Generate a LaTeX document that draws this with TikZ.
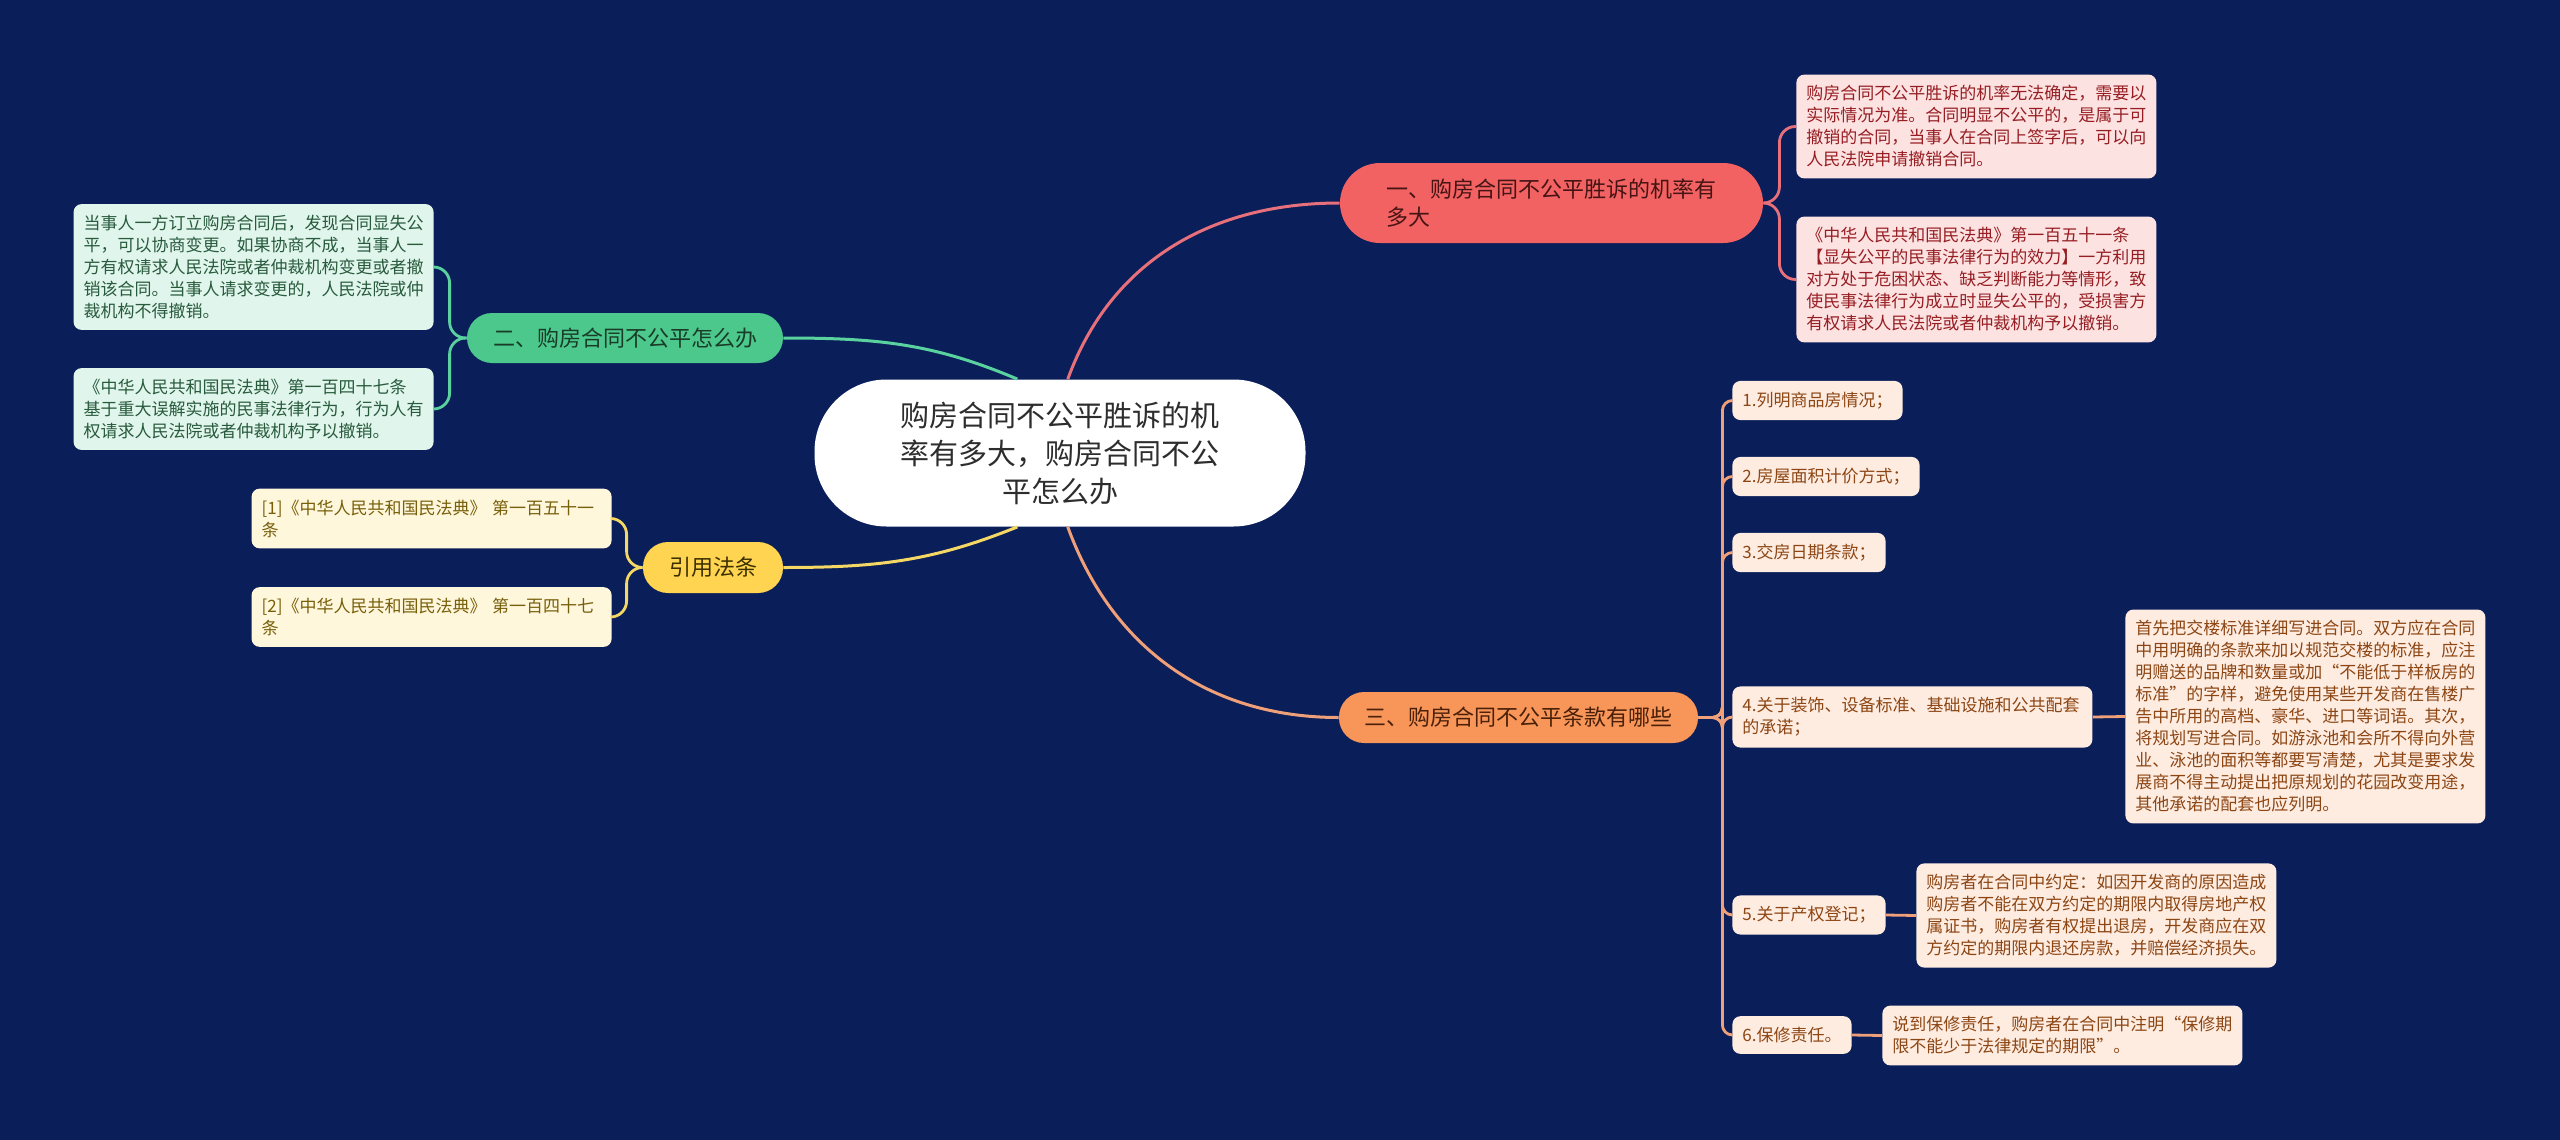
\documentclass[tikz,border=0pt]{standalone}
\usepackage{fontspec}
\setmainfont{Noto Sans CJK SC}
\usepackage{xcolor}
\usepackage{tikz}
\usetikzlibrary{positioning, calc}
\definecolor{bgnavy}{RGB}{10, 30, 90}
\definecolor{rootink}{RGB}{45, 45, 45}
\definecolor{redfill}{RGB}{242, 98, 98}
\definecolor{redline}{RGB}{232, 112, 122}
\definecolor{redink}{RGB}{70, 20, 20}
\definecolor{redleaf}{RGB}{253, 226, 226}
\definecolor{redleafink}{RGB}{150, 30, 35}
\definecolor{greenfill}{RGB}{76, 200, 140}
\definecolor{greenline}{RGB}{90, 210, 160}
\definecolor{greenink}{RGB}{25, 60, 40}
\definecolor{greenleaf}{RGB}{224, 245, 236}
\definecolor{greenleafink}{RGB}{40, 90, 60}
\definecolor{yellowfill}{RGB}{255, 212, 80}
\definecolor{yellowline}{RGB}{245, 215, 100}
\definecolor{yellowink}{RGB}{60, 48, 0}
\definecolor{yellowleaf}{RGB}{255, 247, 220}
\definecolor{yellowleafink}{RGB}{120, 95, 10}
\definecolor{orangefill}{RGB}{248, 150, 90}
\definecolor{orangeline}{RGB}{240, 160, 120}
\definecolor{orangeink}{RGB}{74, 32, 8}
\definecolor{orangeleaf}{RGB}{255, 236, 225}
\definecolor{orangeleafink}{RGB}{140, 70, 20}
\tikzstyle{rootnode} = [
    rectangle,
    rounded corners=36pt,
    minimum width=245.5pt,
    minimum height=73.5pt,
    fill=white,
    text=rootink,
    align=center,
    font=\fontsize{14.5}{19}\selectfont
]
\tikzstyle{topicnode} = [
    rectangle,
    rounded corners=12.5pt,
    minimum height=25.5pt,
    inner sep=0pt,
    font=\fontsize{11}{14}\selectfont
]
\tikzstyle{leafnode} = [
    rectangle,
    rounded corners=4pt,
    inner xsep=5pt,
    inner ysep=5.5pt,
    align=left,
    font=\fontsize{8.5}{11}\selectfont
]
\tikzstyle{wideleaf} = [
    leafnode,
    text width=170pt
]
\tikzstyle{branchline} = [
    line width=1.4pt,
    rounded corners=8pt
]

\begin{document}
\begin{tikzpicture}[x=0.5pt, y=0.5pt]
        \fill[bgnavy] (0,0) rectangle (2560,-1140);
        \useasboundingbox (0,0) rectangle (2560,-1140);

        % Root
        \node[rootnode] (root) at (1060,-453) {购房合同不公平胜诉的机\\率有多大，购房合同不公\\平怎么办};

        % Topics
        \node[topicnode, fill=redfill, text=redink, minimum width=211.5pt, minimum height=40pt, rounded corners=20pt, align=left] (t1) at (1551.5,-203) {一、购房合同不公平胜诉的机率有\\多大};
        \node[topicnode, fill=greenfill, text=greenink, minimum width=158pt, minimum height=25pt] (t2) at (625,-338) {二、购房合同不公平怎么办};
        \node[topicnode, fill=orangefill, text=orangeink, minimum width=179.5pt] (t3) at (1518.5,-717.5) {三、购房合同不公平条款有哪些};
        \node[topicnode, fill=yellowfill, text=yellowink, minimum width=70pt] (t4) at (713,-567.5) {引用法条};

        % Leaves of topic one
        \node[wideleaf, fill=redleaf, text=redleafink, anchor=west] (r1) at (1796,-126.5) {购房合同不公平胜诉的机率无法确定，需要以\\实际情况为准。合同明显不公平的，是属于可\\撤销的合同，当事人在合同上签字后，可以向\\人民法院申请撤销合同。};
        \node[wideleaf, fill=redleaf, text=redleafink, anchor=west] (r2) at (1796,-279.5) {《中华人民共和国民法典》第一百五十一条\\【显失公平的民事法律行为的效力】一方利用\\对方处于危困状态、缺乏判断能力等情形，致\\使民事法律行为成立时显失公平的，受损害方\\有权请求人民法院或者仲裁机构予以撤销。};

        % Leaves of topic two
        \node[wideleaf, fill=greenleaf, text=greenleafink, anchor=east] (g1) at (434,-267) {当事人一方订立购房合同后，发现合同显失公\\平，可以协商变更。如果协商不成，当事人一\\方有权请求人民法院或者仲裁机构变更或者撤\\销该合同。当事人请求变更的，人民法院或仲\\裁机构不得撤销。};
        \node[wideleaf, fill=greenleaf, text=greenleafink, anchor=east] (g2) at (434,-409) {《中华人民共和国民法典》第一百四十七条\\基于重大误解实施的民事法律行为，行为人有\\权请求人民法院或者仲裁机构予以撤销。};

        % Cited laws
        \node[wideleaf, fill=yellowleaf, text=yellowleafink, anchor=east] (y1) at (612,-518.5) {[1]《中华人民共和国民法典》 第一百五十一\\条};
        \node[wideleaf, fill=yellowleaf, text=yellowleafink, anchor=east] (y2) at (612,-617) {[2]《中华人民共和国民法典》 第一百四十七\\条};

        % Leaves of topic three
        \node[leafnode, fill=orangeleaf, text=orangeleafink, anchor=west] (o1) at (1732,-400.5) {1.列明商品房情况；};
        \node[leafnode, fill=orangeleaf, text=orangeleafink, anchor=west] (o2) at (1732,-476.5) {2.房屋面积计价方式；};
        \node[leafnode, fill=orangeleaf, text=orangeleafink, anchor=west] (o3) at (1732,-552.5) {3.交房日期条款；};
        \node[wideleaf, fill=orangeleaf, text=orangeleafink, anchor=west] (o4) at (1732,-717) {4.关于装饰、设备标准、基础设施和公共配套\\的承诺；};
        \node[leafnode, fill=orangeleaf, text=orangeleafink, anchor=west] (o5) at (1732,-915) {5.关于产权登记；};
        \node[leafnode, fill=orangeleaf, text=orangeleafink, anchor=west] (o6) at (1732,-1035) {6.保修责任。};
        \node[wideleaf, fill=orangeleaf, text=orangeleafink, anchor=west] (o4d) at (2125,-716.5) {首先把交楼标准详细写进合同。双方应在合同\\中用明确的条款来加以规范交楼的标准，应注\\明赠送的品牌和数量或加“不能低于样板房的\\标准”的字样，避免使用某些开发商在售楼广\\告中所用的高档、豪华、进口等词语。其次，\\将规划写进合同。如游泳池和会所不得向外营\\业、泳池的面积等都要写清楚，尤其是要求发\\展商不得主动提出把原规划的花园改变用途，\\其他承诺的配套也应列明。};
        \node[wideleaf, fill=orangeleaf, text=orangeleafink, anchor=west] (o5d) at (1916,-915.5) {购房者在合同中约定：如因开发商的原因造成\\购房者不能在双方约定的期限内取得房地产权\\属证书，购房者有权提出退房，开发商应在双\\方约定的期限内退还房款，并赔偿经济损失。};
        \node[wideleaf, fill=orangeleaf, text=orangeleafink, anchor=west] (o6d) at (1882,-1035.5) {说到保修责任，购房者在合同中注明“保修期\\限不能少于法律规定的期限”。};

        % Connections from root
        \draw[line width=1.5pt, redline] (root.84) to[out=70, in=180] (t1.west);
        \draw[line width=1.5pt, greenline] (root.120) to[out=157, in=0] (t2.east);
        \draw[line width=1.5pt, orangeline] (root.276) to[out=290, in=180] (t3.west);
        \draw[line width=1.5pt, yellowline] (root.240) to[out=202, in=0] (t4.east);

        % Connections to leaves
        \draw[branchline, redline] (t1.east) -- ++(16,0) |- (r1.west);
        \draw[branchline, redline] (t1.east) -- ++(16,0) |- (r2.west);
        \draw[branchline, greenline] (t2.west) -- ++(-17,0) |- (g1.east);
        \draw[branchline, greenline] (t2.west) -- ++(-17,0) |- (g2.east);
        \draw[branchline, yellowline] (t4.west) -- ++(-16,0) |- (y1.east);
        \draw[branchline, yellowline] (t4.west) -- ++(-16,0) |- (y2.east);
        \foreach \leaf in {o1, o2, o3, o4, o5, o6}
            \draw[branchline, orangeline, rounded corners=5pt] (t3.east) -- ++(24,0) |- (\leaf.west);
        \draw[branchline, orangeline] (o4.east) -- (o4d.west);
        \draw[branchline, orangeline] (o5.east) -- (o5d.west);
        \draw[branchline, orangeline] (o6.east) -- (o6d.west);
    \end{tikzpicture}
\end{document}
